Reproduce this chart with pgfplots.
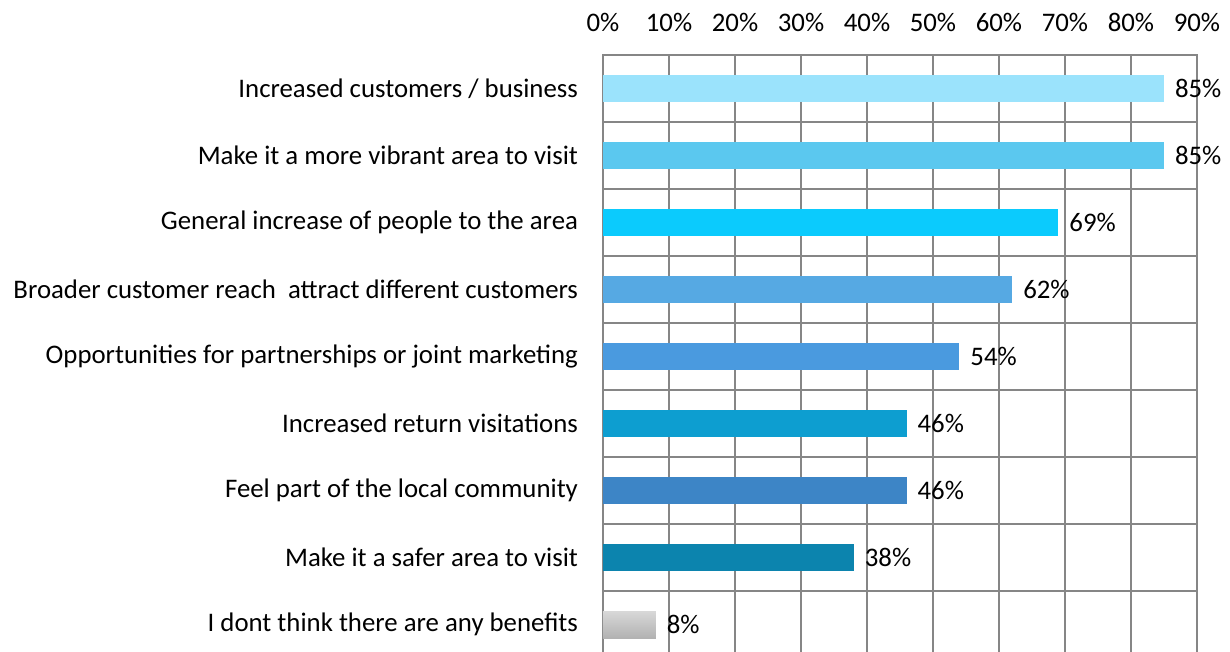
\documentclass[border=0pt]{standalone}
\usepackage{fontspec}
\setmainfont{Carlito}
\usepackage{pgfplots}
\pgfplotsset{compat=1.18}
\definecolor{gridgray}{RGB}{134,134,134}
\definecolor{c1}{HTML}{9BE3FC}
\definecolor{c2}{HTML}{5BC8EF}
\definecolor{c3}{HTML}{0BCBFD}
\definecolor{c4}{HTML}{56A9E3}
\definecolor{c5}{HTML}{4A9ADF}
\definecolor{c6}{HTML}{0D9ED0}
\definecolor{c7}{HTML}{3D85C6}
\definecolor{c8}{HTML}{0C84AE}
\definecolor{g1}{HTML}{D8D8D8}
\definecolor{g2}{HTML}{B2B2B2}
\begin{document}
\begin{tikzpicture}
\useasboundingbox (-301.5pt,3pt) rectangle (313.5pt,329pt);
\begin{axis}[
  scale only axis, width=297pt, height=301.5pt,
  xmin=0, xmax=90, ymin=-0.5, ymax=8.5, y dir=reverse,
  xbar, bar width=13.5pt, bar shift=0pt,
  clip=false,
  axis line style={draw=gridgray, line width=1pt},
  xtick={0,10,...,90}, xticklabel pos=upper,
  xticklabel={\pgfmathprintnumber{\tick}\%},
  /pgf/number format/assume math mode=true,
  xmajorgrids,
  major grid style={gridgray, line width=1pt},
  minor grid style={gridgray, line width=1pt},
  ytick={0,...,8},
  yticklabels={Increased customers / business, Make it a more vibrant area to visit, General increase of people to the area, Broader customer reach\ \ attract different customers, Opportunities for partnerships or joint marketing, Increased return visitations, Feel part of the local community, Make it a safer area to visit, I dont think there are any benefits},
  minor ytick={0.5,1.5,...,7.5}, yminorgrids,
  major tick length=0pt, minor tick length=0pt,
  ticklabel style={font=\fontsize{13.4}{15}\selectfont, text=black},
  yticklabel style={xshift=-9pt},
  xticklabel style={yshift=8pt},
  point meta=x,
  nodes near coords={\pgfmathprintnumber{\pgfplotspointmeta}\%},
  every node near coord/.append style={font=\fontsize{13.4}{15}\selectfont, text=black, anchor=west, xshift=2pt},
]
\addplot[fill=c1, draw=none] coordinates {(85,0)};
\addplot[fill=c2, draw=none] coordinates {(85,1)};
\addplot[fill=c3, draw=none] coordinates {(69,2)};
\addplot[fill=c4, draw=none] coordinates {(62,3)};
\addplot[fill=c5, draw=none] coordinates {(54,4)};
\addplot[fill=c6, draw=none] coordinates {(46,5)};
\addplot[fill=c7, draw=none] coordinates {(46,6)};
\addplot[fill=c8, draw=none] coordinates {(38,7)};
\addplot[top color=g1, bottom color=g2, draw=none] coordinates {(8,8)};
\end{axis}
\end{tikzpicture}
\end{document}
